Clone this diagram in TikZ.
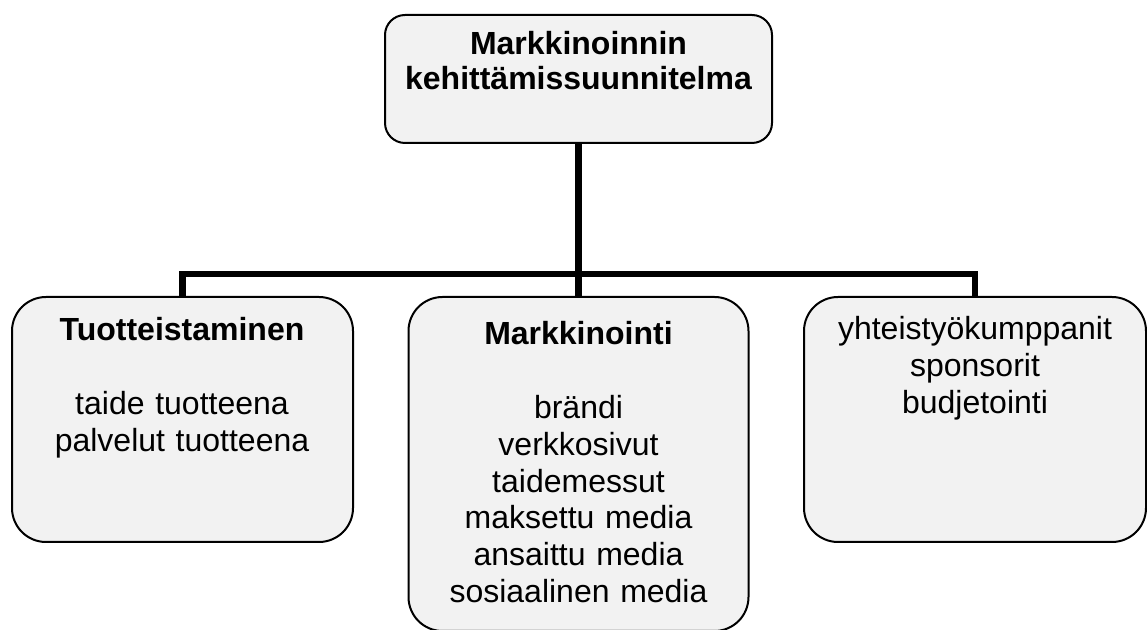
\documentclass[tikz,border=0pt]{standalone}
\usepackage{fontspec}
\setmainfont{Liberation Sans}
\definecolor{boxgray}{RGB}{242,242,242}

\begin{document}
\begin{tikzpicture}[x=0.5pt,y=-0.5pt,
        box/.style={draw,line width=1pt,fill=boxgray,rounded corners=17pt,inner sep=0pt},
        txt/.style={anchor=base,align=center,text width=180pt,inner sep=0pt,font=\fontsize{16}{18.4}\selectfont},
        conn/.style={line width=3.2pt}]
        \useasboundingbox (0,0) rectangle (1147,630);

        \node[box,rounded corners=10pt,minimum width=193.5pt,minimum height=64pt] (plan) at (578.5,79) {};
        \node[box,minimum width=170.5pt,minimum height=122.5pt] (tuote) at (182.5,419.5) {};
        \node[box,minimum width=170pt,minimum height=167pt] (mark) at (578.5,464) {};
        \node[box,minimum width=171pt,minimum height=122.5pt] (yhteis) at (975,419.5) {};

        \coordinate (bus) at (0,274);
        \draw[conn] (plan.south) -- (mark.north);
        \draw[conn] (tuote.north) -- (tuote.north |- bus) -- (yhteis.north |- bus) -- (yhteis.north);

        \node[txt,font=\fontsize{16}{17.5}\selectfont\bfseries] (plantxt) at (578.5,54.5) {Markkinoinnin\\kehittämissuunnitelma};
        \node[txt] (tuotetxt) at (182,341) {\textbf{Tuotteistaminen}\\[18.4pt]taide tuotteena\\palvelut tuotteena};
        \node[txt] (marktxt) at (578.5,345) {\textbf{Markkinointi}\\[18.4pt]brändi\\verkkosivut\\taidemessut\\maksettu media\\ansaittu media\\sosiaalinen media};
        \node[txt] (yhteistxt) at (975,340) {yhteistyökumppanit\\sponsorit\\budjetointi};
    \end{tikzpicture}
\end{document}
